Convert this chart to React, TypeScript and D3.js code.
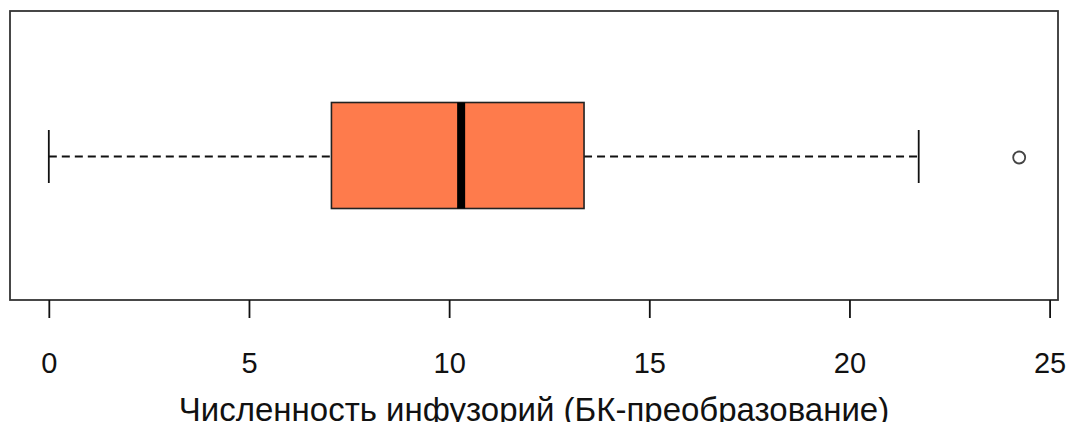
import React, { useEffect, useRef } from 'react';
import * as d3 from 'd3';

// boxplot stats
const categories = ['Численность инфузорий'];
const lowerWhisker = [0];
const q1Values = [7.06];
const medianValues = [10.3];
const q3Values = [13.37];
const upperWhisker = [21.73];
const outliers = [24.24];
const tickValues = [0, 5, 10, 15, 20, 25];
const xTitle = 'Численность инфузорий (БК-преобразование)';

const width = 1072;
const height = 422;
const margin = { top: 11, right: 14, bottom: 122, left: 10 };
const font = "'Liberation Sans', Arial, sans-serif";

export default function App() {
    const ref = useRef<SVGSVGElement>(null);

    useEffect(() => {
        drawChart();
    }, []);

    function drawChart() {
        const svg = d3.select(ref.current);
        svg.selectAll('*').remove();

        const left = margin.left;
        const right = width - margin.right;
        const top = margin.top;
        const bottom = height - margin.bottom;

        const allValues = [...lowerWhisker, ...upperWhisker, ...outliers];
        const xMin = d3.min(allValues) as number;
        const xMax = d3.max(allValues) as number;
        const pad = (xMax - xMin) * 0.04;

        const xScale = d3.scaleLinear()
            .domain([xMin - pad, xMax + pad])
            .range([left, right]);
        const yScale = d3.scaleBand()
            .domain(categories)
            .range([top, bottom]);

        const boxHalf = 53;
        const capHalf = boxHalf / 2;

        const rows = categories.map((c, i) => ({
            c,
            lo: lowerWhisker[i],
            q1: q1Values[i],
            med: medianValues[i],
            q3: q3Values[i],
            hi: upperWhisker[i],
        }));

        const g = svg.append('g');
        rows.forEach(r => {
            const cy = (yScale(r.c) as number) + yScale.bandwidth() / 2 + 1;
            // whiskers
            g.append('line')
                .attr('x1', xScale(r.lo)).attr('x2', xScale(r.q1))
                .attr('y1', cy).attr('y2', cy)
                .attr('stroke', '#111').attr('stroke-width', 1.8)
                .attr('stroke-dasharray', '8,5');
            g.append('line')
                .attr('x1', xScale(r.q3)).attr('x2', xScale(r.hi))
                .attr('y1', cy).attr('y2', cy)
                .attr('stroke', '#111').attr('stroke-width', 1.8)
                .attr('stroke-dasharray', '8,5');
            [r.lo, r.hi].forEach(v => {
                g.append('line')
                    .attr('x1', xScale(v)).attr('x2', xScale(v))
                    .attr('y1', cy - capHalf).attr('y2', cy + capHalf)
                    .attr('stroke', '#111').attr('stroke-width', 1.8);
            });
            // box
            g.append('rect')
                .attr('x', xScale(r.q1))
                .attr('y', cy - boxHalf - 1)
                .attr('width', xScale(r.q3) - xScale(r.q1))
                .attr('height', boxHalf * 2)
                .attr('fill', '#fe7b4c')
                .attr('stroke', '#222')
                .attr('stroke-width', 1.6);
            g.append('line')
                .attr('x1', xScale(r.med)).attr('x2', xScale(r.med))
                .attr('y1', cy - boxHalf - 1).attr('y2', cy + boxHalf - 1)
                .attr('stroke', '#000').attr('stroke-width', 8);
            // outliers
            outliers.forEach(o => {
                g.append('circle')
                    .attr('cx', xScale(o)).attr('cy', cy + 1)
                    .attr('r', 6)
                    .attr('fill', 'none')
                    .attr('stroke', '#444')
                    .attr('stroke-width', 1.8);
            });
        });

        // frame
        svg.append('rect')
            .attr('x', left).attr('y', top)
            .attr('width', right - left).attr('height', bottom - top)
            .attr('fill', 'none')
            .attr('stroke', '#333')
            .attr('stroke-width', 1.8);

        // x axis
        const axis = svg.append('g')
            .attr('transform', `translate(0,${bottom})`)
            .call(d3.axisBottom(xScale).tickValues(tickValues).tickSize(18).tickSizeOuter(0));
        axis.select('.domain').remove();
        axis.selectAll('line').attr('stroke', '#111').attr('stroke-width', 1.8);
        axis.selectAll('text')
            .attr('y', 72.5)
            .attr('dy', null)
            .attr('fill', '#111')
            .attr('font-family', font)
            .attr('font-size', 29);

        svg.append('text')
            .attr('x', (left + right) / 2)
            .attr('y', 420.5)
            .attr('text-anchor', 'middle')
            .attr('fill', '#111')
            .attr('font-family', font)
            .attr('font-size', 33)
            .text(xTitle);
    }

    return (
        <svg
            ref={ref}
            width={width}
            height={height}
            style={{ position: 'absolute', left: 0, top: 0, background: '#fff' }}
        />
    );
}
